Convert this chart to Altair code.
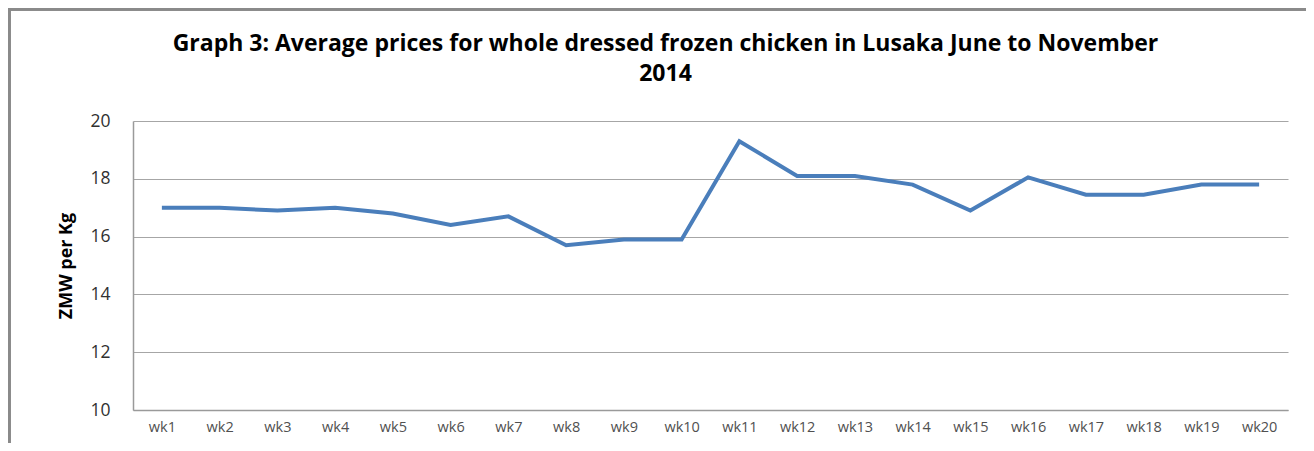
import altair as alt
import pandas as pd

weeks = [f"wk{i}" for i in range(1, 21)]
prices = [17.0, 17.0, 16.9, 17.0, 16.8, 16.4, 16.7, 15.7, 15.9, 15.9,
          19.3, 18.1, 18.1, 17.8, 16.9, 18.05, 17.45, 17.45, 17.8, 17.8]
y_ticks = [10, 12, 14, 16, 18, 20]
title_lines = ["Graph 3: Average prices for whole dressed frozen chicken in Lusaka June to November", "2014"]
y_title = "ZMW per Kg"

df = pd.DataFrame({"week": weeks, "price": prices})

x_enc = alt.X("week:N", sort=weeks,
              scale=alt.Scale(type="point", padding=0.5),
              axis=alt.Axis(title=None, labelAngle=0, labelFontSize=14.5, labelFont="Open Sans",
                            labelColor="#505050", labelPadding=10, ticks=False,
                            domainColor="#9a9a9a", domainWidth=1.5, grid=False))
y_enc = alt.Y("price:Q", scale=alt.Scale(domain=[10, 20], nice=False, zero=False),
              axis=alt.Axis(title=y_title, values=y_ticks, labelFontSize=17.5, labelFont="Open Sans",
                            labelColor="#303030", labelPadding=23, ticks=False,
                            titleFont="Open Sans", titleFontSize=18, titleFontWeight="bold",
                            titleColor="#000000", titlePadding=14,
                            domainColor="#9a9a9a", domainWidth=1.5,
                            grid=True, gridColor="#a6a6a6", gridWidth=1.2))

line = alt.Chart(df).mark_line(color="#4a7ebb", strokeWidth=4, strokeJoin="miter").encode(x=x_enc, y=y_enc)

frame = alt.Chart(df).mark_rect(filled=False, stroke="#8a8a8a", strokeWidth=2.5).encode(
    x=alt.value(-124), x2=alt.value(1300), y=alt.value(-112), y2=alt.value(400))

chart = alt.layer(frame, line).properties(
    width=1155, height=289,
    autosize=alt.AutoSizeParams(type="none"),
    padding={"left": 125, "top": 113, "right": 18, "bottom": 33},
    title=alt.TitleParams(text=title_lines, anchor="middle", frame="group", dx=-45,
                          baseline="alphabetic", offset=0, dy=96,
                          font="Open Sans", fontSize=23, fontWeight="bold", color="#000000",
                          lineHeight=30),
).configure_view(stroke=None)

chart.save("out.html", embed_options={"renderer": "svg", "actions": False})
